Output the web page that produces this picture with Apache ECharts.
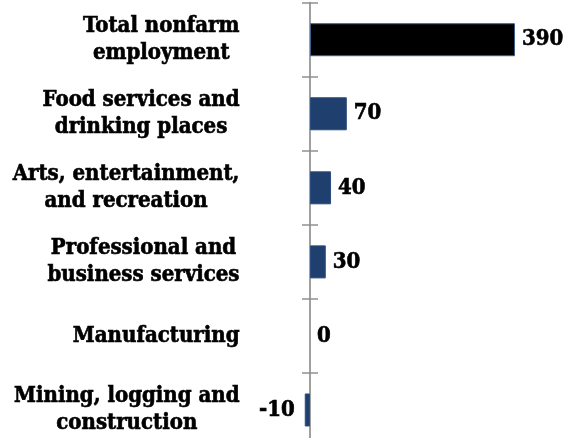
<!DOCTYPE html>
<html><head><meta charset="utf-8">
<script src="https://cdn.jsdelivr.net/npm/echarts@6/dist/echarts.min.js"></script>
<style>html,body{margin:0;padding:0;background:#fff}#c{width:582px;height:438px}</style>
</head><body><div id="c"></div>
<script>
var categories = [
  ["Total nonfarm", "employment"],
  ["Food services and", "drinking places"],
  ["Arts, entertainment,", "and recreation"],
  ["Professional and", "business services"],
  ["Manufacturing"],
  ["Mining, logging and", "construction"]
];
var values = [390, 70, 40, 30, 0, -10];
var barColors = ["#000000", "#1F3F6E", "#1F3F6E", "#1F3F6E", "#1F3F6E", "#1F3F6E"];

var FONT = "'DejaVu Serif Condensed', 'DejaVu Serif', serif";
var labelsText = categories.map(function (l) { return l.join("\n"); });

var chart = echarts.init(document.getElementById('c'), null, {renderer: 'canvas'});
var catAxisBase = {
  type: 'category',
  data: labelsText,
  inverse: true,
  position: 'left'
};
chart.setOption({
  animation: false,
  backgroundColor: '#ffffff',
  grid: {left: 299.5, right: 9.2, top: 2.7, bottom: -9, containLabel: false, outerBoundsMode: 'none'},
  xAxis: {
    type: 'value', min: -20, max: 500, show: false
  },
  yAxis: [
    Object.assign({}, catAxisBase, {
      axisLine: {show: true, onZero: true, lineStyle: {color: '#A0A0A0', width: 2}},
      axisTick: {show: true, length: 8, lineStyle: {color: '#909090', width: 1.5}},
      axisLabel: {
        margin: 60,
        align: 'right',
        formatter: function (v) {
          return v.split("\n").map(function (s) { return '{a|' + s + '}'; }).join("\n");
        },
        rich: {a: {fontFamily: FONT, fontWeight: 'bold', fontSize: 22, lineHeight: 27.5, color: '#000', align: 'center',
                   textBorderColor: '#000', textBorderWidth: 0.6}}
      }
    }),
    Object.assign({}, catAxisBase, {
      offset: -10.5,
      axisLine: {show: false, onZero: false},
      axisTick: {show: true, inside: true, length: 8, lineStyle: {color: '#909090', width: 1.5}},
      axisLabel: {show: false}
    })
  ],
  series: [{
    type: 'bar',
    yAxisIndex: 0,
    barWidth: 33,
    data: values.map(function (v, i) {
      return {
        value: v,
        itemStyle: {color: barColors[i], borderColor: i === 0 ? '#3B5F8A' : '#2B4C7E', borderWidth: v === 0 ? 0 : 1},
        label: {position: v < 0 ? 'left' : 'right', distance: v < 0 ? 10 : 7}
      };
    }),
    label: {
      show: true,
      fontFamily: FONT, fontWeight: 'bold', fontSize: 22, color: '#000',
      textBorderColor: '#000', textBorderWidth: 0.6
    }
  }]
});
</script></body></html>
